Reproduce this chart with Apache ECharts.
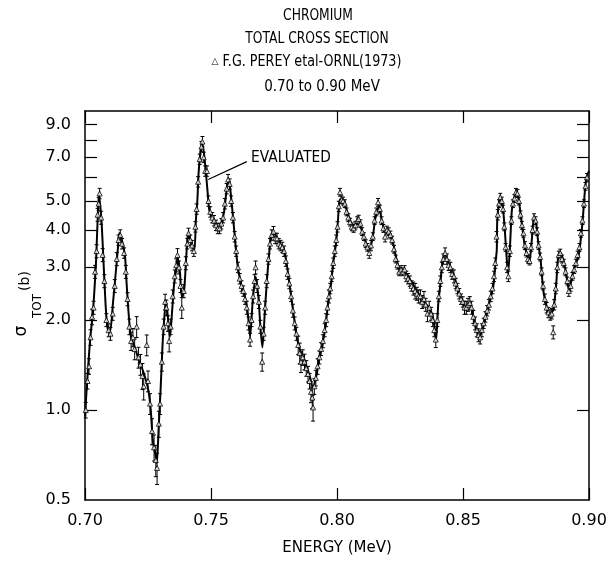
<!DOCTYPE html>
<html><head><meta charset="utf-8">
<script src="https://cdn.jsdelivr.net/npm/echarts@6/dist/echarts.min.js"></script>
<style>html,body{margin:0;padding:0;background:#fff}#c{width:611px;height:565px}</style>
</head><body><div id="c"></div>
<script>
// Evaluated curve (energy MeV, total cross section b)
const curveE = [0.7000,0.7007,0.7020,0.7032,0.7044,0.7052,0.7056,0.7066,0.7075,0.7083,0.7091,0.7099,0.7111,0.7123,0.7130,0.7136,0.7150,0.7159,0.7165,0.7172,0.7179,0.7185,0.7192,0.7205,0.7215,0.7225,0.7238,0.7251,0.7261,0.7269,0.7278,0.7285,0.7292,0.7300,0.7308,0.7317,0.7321,0.7331,0.7337,0.7346,0.7354,0.7364,0.7368,0.7377,0.7384,0.7393,0.7401,0.7406,0.7410,0.7423,0.7434,0.7440,0.7446,0.7451,0.7459,0.7465,0.7472,0.7480,0.7487,0.7493,0.7503,0.7516,0.7529,0.7542,0.7553,0.7562,0.7571,0.7582,0.7591,0.7599,0.7608,0.7622,0.7635,0.7646,0.7655,0.7665,0.7677,0.7688,0.7697,0.7704,0.7714,0.7723,0.7731,0.7738,0.7747,0.7761,0.7774,0.7787,0.7800,0.7813,0.7827,0.7840,0.7853,0.7866,0.7880,0.7893,0.7904,0.7917,0.7930,0.7943,0.7956,0.7965,0.7975,0.7985,0.7996,0.8003,0.8009,0.8016,0.8029,0.8038,0.8052,0.8065,0.8085,0.8098,0.8111,0.8128,0.8142,0.8151,0.8160,0.8168,0.8177,0.8190,0.8210,0.8223,0.8237,0.8250,0.8270,0.8283,0.8303,0.8323,0.8342,0.8362,0.8376,0.8385,0.8393,0.8402,0.8409,0.8418,0.8429,0.8442,0.8455,0.8468,0.8481,0.8495,0.8508,0.8528,0.8541,0.8554,0.8565,0.8581,0.8594,0.8607,0.8620,0.8630,0.8634,0.8636,0.8644,0.8650,0.8658,0.8666,0.8673,0.8679,0.8687,0.8694,0.8704,0.8713,0.8723,0.8733,0.8746,0.8757,0.8763,0.8773,0.8782,0.8790,0.8799,0.8808,0.8819,0.8832,0.8845,0.8858,0.8869,0.8878,0.8888,0.8901,0.8911,0.8921,0.8931,0.8944,0.8958,0.8967,0.8975,0.8984,0.8991,0.9000];
const curveS = [0.95,1.19,1.71,2.16,3.17,4.77,5.24,4.2,2.94,2.16,1.85,1.82,2.28,2.94,3.43,3.91,3.6,3.25,2.66,2.16,1.85,1.71,1.67,1.55,1.45,1.39,1.29,1.17,1.0,0.79,0.72,0.665,0.86,1.17,1.67,2.16,2.33,1.96,1.76,2.16,2.66,3.03,3.25,2.87,2.39,2.5,3.17,3.7,3.91,3.6,3.43,4.32,5.04,6.25,7.41,7.82,7.23,6.2,5.3,4.67,4.42,4.22,4.06,4.22,4.67,5.44,5.88,4.92,4.09,3.43,2.94,2.58,2.39,2.11,1.76,2.28,2.79,2.39,1.85,1.62,2.16,2.79,3.35,3.79,3.91,3.79,3.6,3.5,3.1,2.58,2.11,1.76,1.59,1.5,1.39,1.29,1.19,1.29,1.5,1.67,1.96,2.28,2.58,3.1,3.6,4.22,4.92,5.1,5.0,4.67,4.32,4.09,4.32,3.99,3.7,3.43,3.79,4.32,4.67,4.79,4.32,3.99,3.91,3.6,3.17,2.94,2.87,2.79,2.62,2.45,2.33,2.21,2.11,1.96,1.71,2.28,2.58,3.1,3.35,3.1,2.94,2.74,2.5,2.33,2.21,2.28,2.05,1.85,1.76,1.91,2.11,2.33,2.58,3.17,3.43,4.32,5.0,5.15,4.79,3.99,3.25,2.87,3.6,4.67,5.15,5.35,4.92,4.22,3.5,3.25,3.1,3.7,4.42,4.22,3.6,3.17,2.5,2.21,2.09,2.16,2.58,3.25,3.35,3.1,2.79,2.5,2.74,3.03,3.25,3.7,4.32,5.44,6.02,6.3];

// Measured points (Perey et al., ORNL 1973): energy, cross section, relative error
const measE = [0.7003,0.7010,0.7016,0.7022,0.7028,0.7034,0.7040,0.7046,0.7050,0.7054,0.7058,0.7064,0.7070,0.7077,0.7085,0.7094,0.7101,0.7110,0.7118,0.7126,0.7133,0.7140,0.7147,0.7155,0.7162,0.7169,0.7176,0.7183,0.7190,0.7197,0.7205,0.7212,0.7220,0.7228,0.7233,0.7245,0.7250,0.7258,0.7266,0.7274,0.7281,0.7286,0.7293,0.7298,0.7305,0.7312,0.7318,0.7323,0.7329,0.7334,0.7340,0.7348,0.7356,0.7362,0.7367,0.7373,0.7379,0.7384,0.7392,0.7400,0.7406,0.7411,0.7418,0.7425,0.7432,0.7438,0.7443,0.7449,0.7455,0.7462,0.7466,0.7471,0.7477,0.7484,0.7490,0.7497,0.7505,0.7512,0.7520,0.7527,0.7534,0.7541,0.7548,0.7555,0.7562,0.7568,0.7574,0.7580,0.7587,0.7594,0.7600,0.7607,0.7614,0.7621,0.7628,0.7635,0.7642,0.7649,0.7655,0.7661,0.7667,0.7673,0.7677,0.7683,0.7690,0.7696,0.7703,0.7709,0.7715,0.7721,0.7728,0.7734,0.7741,0.7748,0.7755,0.7762,0.7769,0.7776,0.7783,0.7790,0.7797,0.7804,0.7811,0.7818,0.7825,0.7832,0.7839,0.7846,0.7852,0.7857,0.7864,0.7871,0.7878,0.7885,0.7891,0.7897,0.7902,0.7905,0.7910,0.7916,0.7923,0.7930,0.7937,0.7944,0.7951,0.7957,0.7962,0.7968,0.7973,0.7979,0.7985,0.7991,0.7997,0.8002,0.8007,0.8012,0.8018,0.8024,0.8031,0.8038,0.8045,0.8052,0.8059,0.8066,0.8073,0.8080,0.8086,0.8093,0.8100,0.8107,0.8114,0.8121,0.8128,0.8135,0.8142,0.8149,0.8156,0.8163,0.8170,0.8177,0.8184,0.8191,0.8198,0.8205,0.8212,0.8219,0.8226,0.8233,0.8240,0.8247,0.8254,0.8261,0.8268,0.8275,0.8282,0.8289,0.8296,0.8303,0.8310,0.8317,0.8324,0.8331,0.8338,0.8345,0.8352,0.8359,0.8366,0.8373,0.8380,0.8386,0.8392,0.8398,0.8404,0.8410,0.8416,0.8422,0.8429,0.8436,0.8443,0.8450,0.8457,0.8464,0.8471,0.8478,0.8485,0.8492,0.8499,0.8506,0.8513,0.8520,0.8527,0.8534,0.8541,0.8548,0.8555,0.8562,0.8568,0.8575,0.8582,0.8589,0.8596,0.8603,0.8610,0.8617,0.8623,0.8628,0.8633,0.8638,0.8643,0.8648,0.8654,0.8659,0.8664,0.8669,0.8675,0.8680,0.8686,0.8692,0.8698,0.8704,0.8710,0.8716,0.8722,0.8728,0.8734,0.8740,0.8746,0.8752,0.8758,0.8764,0.8770,0.8776,0.8782,0.8788,0.8794,0.8800,0.8806,0.8812,0.8818,0.8825,0.8832,0.8839,0.8846,0.8852,0.8858,0.8862,0.8868,0.8874,0.8880,0.8886,0.8893,0.8900,0.8907,0.8914,0.8920,0.8927,0.8934,0.8941,0.8948,0.8955,0.8962,0.8968,0.8974,0.8980,0.8986,0.8992];
const measS = [1.00,1.25,1.40,1.75,2.05,2.20,2.90,3.40,4.50,4.90,5.30,4.40,3.30,2.70,2.00,1.85,1.80,2.10,2.60,3.20,3.70,3.85,3.60,3.35,2.90,2.35,1.90,1.70,1.75,1.60,1.90,1.50,1.42,1.30,1.20,1.65,1.25,1.05,0.85,0.75,0.68,0.64,0.90,1.05,1.45,1.90,2.30,2.20,1.95,1.70,1.90,2.40,2.80,3.05,3.30,3.00,2.60,2.20,2.50,3.10,3.60,3.90,3.70,3.55,3.40,4.10,4.70,5.80,6.90,7.60,7.90,7.00,6.30,6.30,5.00,4.60,4.40,4.30,4.15,4.05,4.05,4.20,4.40,4.90,5.50,5.90,5.70,5.00,4.40,3.80,3.40,3.00,2.75,2.60,2.50,2.35,2.20,1.95,1.72,2.00,2.40,2.70,3.00,2.60,2.30,1.90,1.45,1.80,2.20,2.70,3.20,3.60,3.85,3.95,3.75,3.75,3.60,3.55,3.50,3.40,3.15,2.85,2.65,2.40,2.15,1.95,1.80,1.65,1.55,1.45,1.50,1.45,1.38,1.32,1.25,1.15,1.10,1.02,1.20,1.28,1.40,1.50,1.60,1.70,1.85,2.00,2.20,2.40,2.55,2.80,3.10,3.40,3.70,4.10,4.80,5.35,5.05,5.00,4.90,4.60,4.40,4.25,4.10,4.05,4.15,4.30,4.35,4.20,3.95,3.80,3.60,3.50,3.35,3.55,3.80,4.30,4.60,4.95,4.70,4.30,4.05,3.80,4.00,3.95,3.85,3.70,3.45,3.20,3.05,2.90,2.95,2.90,2.95,2.80,2.75,2.70,2.60,2.55,2.50,2.45,2.40,2.40,2.30,2.35,2.25,2.10,2.20,2.10,2.00,1.85,1.72,2.00,2.40,2.70,3.00,3.20,3.35,3.20,3.05,3.00,2.85,2.80,2.65,2.55,2.45,2.35,2.30,2.20,2.20,2.25,2.28,2.20,2.05,1.95,1.85,1.78,1.75,1.85,1.95,2.05,2.15,2.25,2.40,2.55,2.80,3.10,3.80,4.50,4.90,5.15,5.00,4.70,4.10,3.50,3.00,2.80,3.40,4.30,4.90,5.10,5.35,5.30,5.00,4.50,4.15,3.90,3.55,3.35,3.20,3.15,3.50,4.00,4.40,4.30,3.95,3.55,3.25,2.90,2.60,2.35,2.20,2.12,2.08,2.10,1.82,2.25,2.55,3.00,3.30,3.35,3.20,3.10,2.90,2.70,2.50,2.60,2.80,2.95,3.10,3.30,3.50,3.90,4.30,4.90,5.60,6.00];
const measErr = [.06,.06,.06,.06,.06,.05,.05,.05,.05,.05,.04,.05,.05,.05,.05,.05,.05,.05,.05,.05,.04,.04,.04,.04,.05,.05,.06,.07,.07,.08,.08,.08,.08,.10,.10,.08,.08,.08,.10,.10,.12,.12,.10,.08,.07,.06,.06,.06,.06,.08,.06,.05,.05,.05,.05,.05,.05,.08,.05,.05,.04,.04,.04,.04,.04,.04,.04,.04,.04,.04,.04,.04,.04,.04,.04,.04,.04,.04,.04,.04,.04,.04,.04,.04,.04,.04,.04,.04,.04,.04,.04,.04,.04,.04,.04,.04,.05,.05,.05,.05,.05,.05,.05,.05,.05,.05,.07,.05,.05,.05,.04,.04,.04,.04,.04,.04,.04,.04,.04,.04,.04,.04,.04,.04,.05,.05,.05,.07,.08,.08,.06,.06,.06,.06,.06,.08,.08,.10,.06,.06,.06,.05,.05,.05,.05,.05,.05,.05,.04,.04,.04,.04,.04,.04,.04,.03,.03,.03,.03,.03,.03,.03,.03,.03,.03,.03,.03,.03,.03,.03,.03,.03,.04,.04,.03,.03,.03,.03,.03,.03,.03,.04,.03,.03,.03,.03,.03,.03,.03,.03,.03,.03,.03,.04,.04,.04,.04,.05,.06,.05,.05,.05,.05,.06,.05,.06,.05,.05,.05,.05,.06,.05,.04,.04,.04,.04,.04,.04,.04,.04,.04,.05,.04,.04,.04,.04,.04,.05,.05,.05,.05,.05,.05,.05,.05,.05,.05,.05,.04,.04,.04,.04,.04,.04,.04,.04,.04,.04,.03,.03,.03,.03,.03,.03,.04,.04,.04,.03,.03,.03,.03,.03,.03,.03,.03,.03,.03,.03,.03,.03,.03,.03,.03,.03,.03,.03,.03,.03,.03,.04,.04,.04,.04,.04,.05,.04,.04,.04,.03,.03,.03,.03,.03,.03,.04,.04,.03,.03,.03,.03,.03,.03,.03,.03,.03,.03];

const xTickValues = [0.70, 0.75, 0.80, 0.85, 0.90];
const yLabelValues = [0.5, 1, 2, 3, 4, 5, 7, 9];
const yTickValues = [1, 2, 3, 4, 5, 6, 7, 8, 9];
const arrowFrom = [0.7489, 5.9];
const arrowTo = [0.7642, 6.77];

const FONT = 'DejaVu Sans';
const chart = echarts.init(document.getElementById('c'), null, {renderer: 'canvas'});

const axisLineStyle = {color: '#000', width: 1.5};
const tickStyle = {show: true, inside: true, length: 12, lineStyle: {color: '#000', width: 1.2}};
const f = (sz) => sz + 'px "' + FONT + '"';

const option = {
  animation: false,
  backgroundColor: '#fff',
  grid: {left: 85, right: 22, top: 111, bottom: 65},
  xAxis: [
    {type: 'value', min: 0.70, max: 0.90, interval: 0.05, position: 'bottom',
     axisLine: {show: true, lineStyle: axisLineStyle, onZero: false},
     axisTick: Object.assign({}, tickStyle, {customValues: xTickValues}),
     axisLabel: {customValues: xTickValues, formatter: v => v.toFixed(2), color: '#000', fontFamily: FONT, fontSize: 16, margin: 13},
     splitLine: {show: false},
     name: 'ENERGY (MeV)', nameLocation: 'middle', nameGap: 41,
     nameTextStyle: {color: '#000', fontFamily: FONT, fontSize: 15}},
    {type: 'value', min: 0.70, max: 0.90, interval: 0.05, position: 'top',
     axisLine: {show: true, lineStyle: axisLineStyle, onZero: false},
     axisTick: Object.assign({}, tickStyle, {customValues: xTickValues}),
     axisLabel: {show: false}, splitLine: {show: false}}
  ],
  yAxis: [
    {type: 'log', logBase: 10, min: 0.5, max: 10, position: 'left',
     axisLine: {show: true, lineStyle: axisLineStyle, onZero: false},
     axisTick: Object.assign({}, tickStyle, {customValues: yTickValues}),
     axisLabel: {customValues: yLabelValues, formatter: v => Number(v).toFixed(1), color: '#000', fontFamily: FONT, fontSize: 16, margin: 14},
     splitLine: {show: false}, minorTick: {show: false}},
    {type: 'log', logBase: 10, min: 0.5, max: 10, position: 'right',
     axisLine: {show: true, lineStyle: axisLineStyle, onZero: false},
     axisTick: Object.assign({}, tickStyle, {customValues: yTickValues}),
     axisLabel: {show: false}, splitLine: {show: false}}
  ],
  series: [
    {type: 'line', name: 'Evaluated', xAxisIndex: 0, yAxisIndex: 0,
     data: curveE.map((e, i) => [e, curveS[i]]),
     smooth: 0.25, showSymbol: false, symbol: 'none',
     lineStyle: {color: '#000', width: 2}, z: 2,
     markLine: {silent: true, symbol: ['none', 'none'], label: {show: false},
       lineStyle: {color: '#000', width: 1.2, type: 'solid'},
       data: [[{coord: arrowFrom}, {coord: arrowTo}]]}},
    {type: 'custom', name: 'errors', xAxisIndex: 0, yAxisIndex: 0,
     data: measE.map((e, i) => [e, measS[i], measErr[i]]),
     encode: {x: 0, y: 1}, z: 3,
     renderItem: function (params, api) {
       const e = api.value(0), s = api.value(1), r = api.value(2);
       const lo = api.coord([e, s * (1 - r)]);
       const hi = api.coord([e, s * (1 + r)]);
       const cw = 2;
       const st = {stroke: '#000', lineWidth: 1};
       return {type: 'group', children: [
         {type: 'line', shape: {x1: lo[0], y1: lo[1], x2: hi[0], y2: hi[1]}, style: st},
         {type: 'line', shape: {x1: lo[0] - cw, y1: lo[1], x2: lo[0] + cw, y2: lo[1]}, style: st},
         {type: 'line', shape: {x1: hi[0] - cw, y1: hi[1], x2: hi[0] + cw, y2: hi[1]}, style: st}
       ]};
     }},
    {type: 'scatter', name: 'Perey', xAxisIndex: 0, yAxisIndex: 0,
     data: measE.map((e, i) => [e, measS[i]]),
     symbol: 'triangle', symbolSize: 5, z: 4,
     itemStyle: {color: '#fff', borderColor: '#000', borderWidth: 1}}
  ],
  graphic: [
    {type: 'text', x: 318, y: 16, scaleX: 0.82, style: {text: 'CHROMIUM', font: f(15), align: 'center', verticalAlign: 'middle', fill: '#000'}},
    {type: 'text', x: 317, y: 39, scaleX: 0.82, style: {text: 'TOTAL CROSS SECTION', font: f(15), align: 'center', verticalAlign: 'middle', fill: '#000'}},
    {type: 'text', x: 215, y: 62, style: {text: '△', font: f(9), align: 'center', verticalAlign: 'middle', fill: '#000'}},
    {type: 'text', x: 312, y: 62, scaleX: 0.85, style: {text: 'F.G. PEREY etal-ORNL(1973)', font: f(15), align: 'center', verticalAlign: 'middle', fill: '#000'}},
    {type: 'text', x: 322, y: 87, scaleX: 0.9, style: {text: '0.70 to 0.90 MeV', font: f(15), align: 'center', verticalAlign: 'middle', fill: '#000'}},
    {type: 'text', x: 251, y: 158, scaleX: 0.92, style: {text: 'EVALUATED', font: f(15), align: 'left', verticalAlign: 'middle', fill: '#000'}},
    {type: 'text', x: 22, y: 331, rotation: Math.PI / 2, style: {text: 'σ', font: f(17), align: 'center', verticalAlign: 'middle', fill: '#000'}},
    {type: 'text', x: 38, y: 306, rotation: Math.PI / 2, style: {text: 'TOT', font: f(12), align: 'center', verticalAlign: 'middle', fill: '#000'}},
    {type: 'text', x: 25, y: 281, rotation: Math.PI / 2, style: {text: '(b)', font: f(14), align: 'center', verticalAlign: 'middle', fill: '#000'}}
  ]
};
chart.setOption(option);
</script></body></html>
